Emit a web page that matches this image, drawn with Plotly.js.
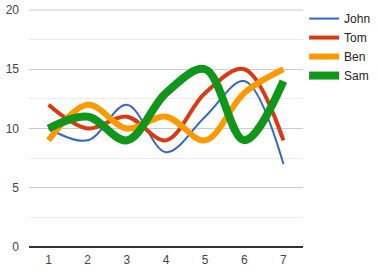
<!DOCTYPE html>
<html>
<head>
<meta charset="utf-8">
<script src="https://cdn.plot.ly/plotly-3.0.1.min.js"></script>
<style>
html,body{margin:0;padding:0;background:#fff;}
#chart{width:378px;height:272px;}
</style>
</head>
<body>
<div id="chart"></div>
<script>
const xValues = [1, 2, 3, 4, 5, 6, 7];
const seriesNames = ["John", "Tom", "Ben", "Sam"];
const john = [10, 9, 12, 8, 11, 14, 7];
const tom = [12, 10, 11, 9, 13, 15, 9];
const ben = [9, 12, 10, 11, 9, 13, 15];
const sam = [10, 11, 9, 13, 15, 9, 14];
const yTicks = [0, 5, 10, 15, 20];

const allValues = [john, tom, ben, sam];
const colors = ["#3366cc", "#dc3912", "#ff9900", "#109618"];
const widths = [2, 4, 6, 8];

const traces = allValues.map((vals, i) => ({
  x: xValues,
  y: vals,
  name: seriesNames[i],
  type: "scatter",
  mode: "lines",
  line: {color: colors[i], width: widths[i], shape: "spline", smoothing: 1},
  hoverinfo: "skip"
}));

const yMin = yTicks[0];
const yMax = yTicks[yTicks.length - 1];

const layout = {
  width: 378,
  height: 272,
  margin: {l: 29, r: 75, t: 10, b: 25, autoexpand: false},
  paper_bgcolor: "#fff",
  plot_bgcolor: "#fff",
  font: {family: "Liberation Sans, Arial, sans-serif", size: 12, color: "#444"},
  showlegend: true,
  legend: {
    x: 1.004, xanchor: "left", y: 1.025, yanchor: "top",
    font: {size: 12, color: "#222"},
    tracegroupgap: 0,
    itemwidth: 30,
    bgcolor: "rgba(0,0,0,0)"
  },
  shapes: [
    {type: "line", xref: "paper", x0: 0, x1: 1, yref: "paper", y0: 1, y1: 1,
     line: {color: "#cccccc", width: 1}, layer: "below"},
    {type: "line", xref: "paper", x0: 0, x1: 1, yref: "paper", y0: 0, y1: 0,
     line: {color: "#333333", width: 2}, layer: "below"}
  ],
  xaxis: {
    range: [0.5, 7.5],
    tickvals: xValues,
    ticktext: xValues.map(String),
    showgrid: false,
    zeroline: false,
    showline: false,
    ticks: "",
    ticklabelstandoff: 4,
    tickfont: {size: 12, color: "#444"},
    fixedrange: true
  },
  yaxis: {
    range: [yMin, yMax],
    tickvals: yTicks,
    ticktext: yTicks.map(String),
    showgrid: true,
    gridcolor: "#cccccc",
    gridwidth: 1,
    zeroline: false,
    showline: false,
    ticks: "",
    ticklabelstandoff: 9,
    tickfont: {size: 12, color: "#444"},
    minor: {dtick: 2.5, tick0: 0, showgrid: true, gridcolor: "#ebebeb", gridwidth: 1},
    fixedrange: true
  }
};

Plotly.newPlot("chart", traces, layout, {displayModeBar: false, staticPlot: true});
</script>
</body>
</html>
